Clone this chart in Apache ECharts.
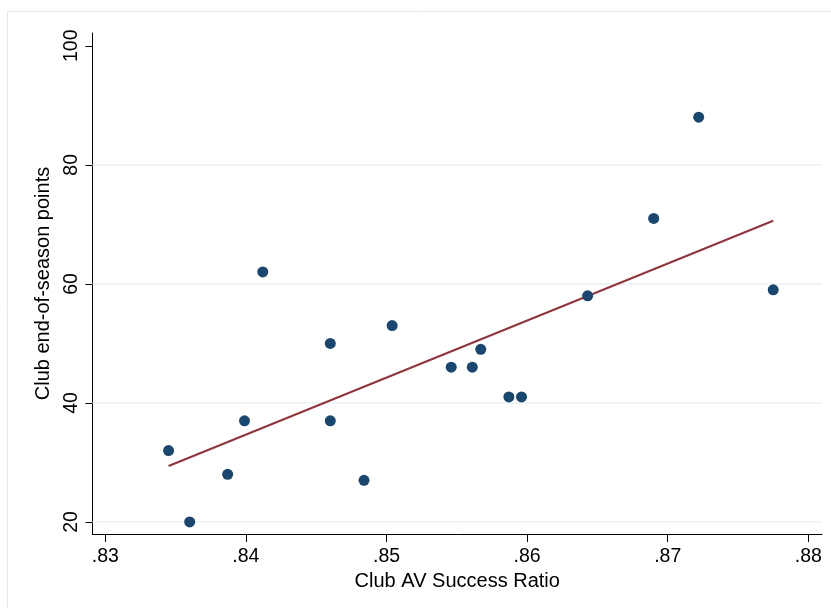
<!DOCTYPE html>
<html>
<head>
<meta charset="utf-8">
<script src="https://cdn.jsdelivr.net/npm/echarts@6/dist/echarts.min.js"></script>
<style>
html,body{margin:0;padding:0;background:#fff;}
#c{width:831px;height:608px;}
</style>
</head>
<body>
<div id="c"></div>
<script>
// Data
const avSuccessRatio = [0.8345, 0.8360, 0.8387, 0.8399, 0.8412, 0.8460, 0.8460, 0.8484, 0.8504, 0.8546, 0.8561, 0.8567, 0.8587, 0.8596, 0.8643, 0.8690, 0.8722, 0.8775];
const seasonPoints   = [32, 20, 28, 37, 62, 50, 37, 27, 53, 46, 46, 49, 41, 41, 58, 71, 88, 59];
// Fitted line end points
const fitX = [0.8345, 0.8775];
const fitY = [29.4, 70.6];
const xTicks = [0.83, 0.84, 0.85, 0.86, 0.87, 0.88];
const yTicks = [20, 40, 60, 80, 100];
const yGridLines = [20, 40, 60, 80];

const scatterData = avSuccessRatio.map((x, i) => [x, seasonPoints[i]]);
const fitData = fitX.map((x, i) => [x, fitY[i]]);

const chart = echarts.init(document.getElementById('c'), null, {renderer: 'canvas'});
const font = 'Arial, "Liberation Sans", sans-serif';
chart.setOption({
  animation: false,
  backgroundColor: '#ffffff',
  graphic: [{
    type: 'rect', silent: true, z: -10,
    shape: {x: 7.5, y: 11.5, width: 900, height: 700},
    style: {fill: '#ffffff', stroke: '#e3ebee', lineWidth: 1}
  }],
  grid: {left: 92.5, right: 9, top: 33, bottom: 74, containLabel: false},
  xAxis: {
    type: 'value',
    min: 0.82909, max: 0.88097,
    name: 'Club AV Success Ratio',
    nameLocation: 'middle', nameGap: 34,
    nameTextStyle: {fontFamily: font, fontSize: 20, color: '#000'},
    axisLine: {show: true, onZero: false, lineStyle: {color: '#000', width: 1}},
    axisTick: {show: true, length: 8, lineStyle: {color: '#000'}, customValues: xTicks},
    axisLabel: {
      margin: 13, fontFamily: font, fontSize: 19.5, color: '#000',
      customValues: xTicks,
      formatter: v => '.' + Math.round(v * 100)
    },
    splitLine: {show: false}
  },
  yAxis: {
    type: 'value',
    min: 17.98, max: 102.15,
    name: 'Club end-of-season points',
    nameLocation: 'middle', nameGap: 38,
    nameTextStyle: {fontFamily: font, fontSize: 20, color: '#000'},
    axisLine: {show: true, onZero: false, lineStyle: {color: '#000', width: 1}},
    axisTick: {show: true, length: 7, lineStyle: {color: '#000'}, customValues: yTicks},
    axisLabel: {
      margin: 11, rotate: 90, fontFamily: font, fontSize: 19.5, color: '#000',
      customValues: yTicks
    },
    splitLine: {show: false}
  },
  series: [
    {
      type: 'scatter',
      data: scatterData,
      symbol: 'circle',
      symbolSize: 11,
      itemStyle: {color: '#1a476f', opacity: 1},
      z: 3,
      markLine: {
        silent: true,
        symbol: 'none',
        label: {show: false},
        lineStyle: {color: '#eaf2f3', width: 1.5, type: 'solid'},
        z: 1,
        data: yGridLines.map(v => ({yAxis: v}))
      }
    },
    {
      type: 'line',
      data: fitData,
      symbol: 'none',
      lineStyle: {color: '#90353b', width: 2},
      z: 2
    }
  ]
});
</script>
</body>
</html>
